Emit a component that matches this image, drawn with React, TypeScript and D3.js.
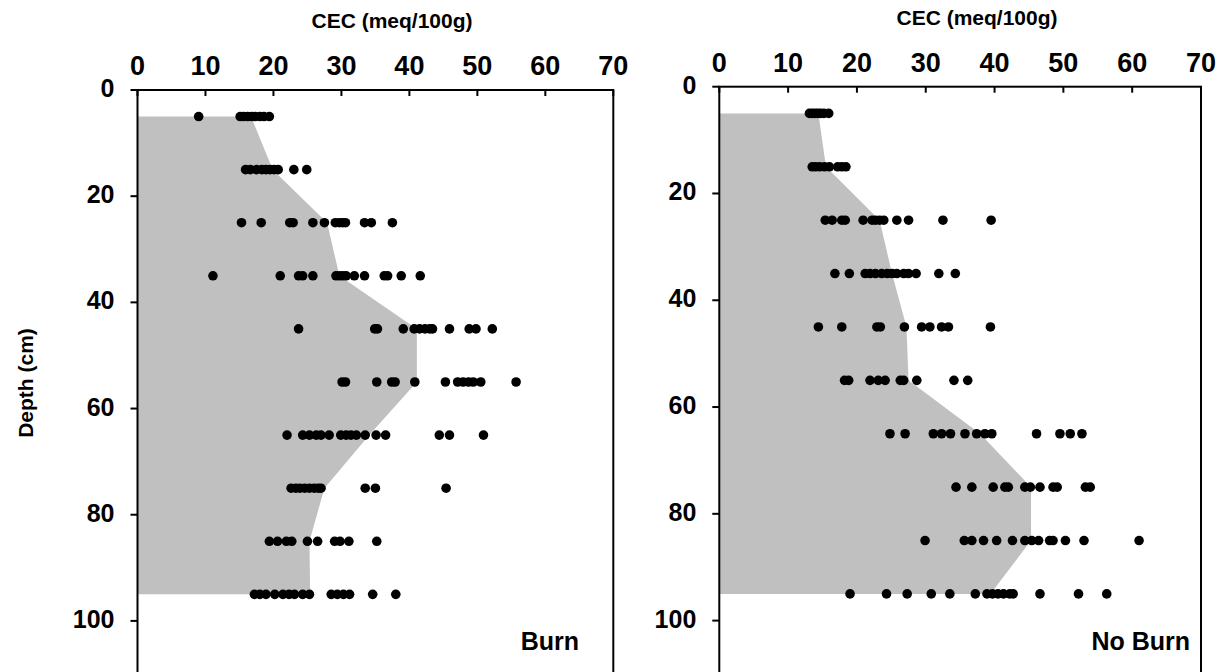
import React from "react";
import * as d3 from "d3";

const depths = [5, 15, 25, 35, 45, 55, 65, 75, 85, 95];
const xTicks = [0, 10, 20, 30, 40, 50, 60, 70];
const yTicks = [0, 20, 40, 60, 80, 100];

const burnMean = [16.7, 19.9, 27.9, 29.7, 41.1, 41.1, 34.1, 27.5, 25.3, 25.4];
const noBurnMean = [14.4, 15.5, 23.3, 25.1, 27.2, 27.5, 37.9, 45.3, 45.3, 39.4];

const burnObs = [
  [9.0, 15.1, 15.6, 16.2, 16.8, 17.3, 18.0, 18.6, 19.4],
  [15.9, 16.6, 17.5, 18.3, 18.9, 19.5, 20.1, 20.7, 23.0, 24.9],
  [15.3, 18.2, 22.4, 22.9, 25.8, 27.5, 29.1, 29.7, 30.2, 30.6, 33.4, 34.4, 37.5],
  [11.1, 21.0, 23.7, 24.3, 25.8, 29.2, 29.7, 30.2, 30.7, 31.9, 33.4, 36.3, 36.8, 38.8, 41.6],
  [23.7, 34.9, 35.3, 39.1, 40.7, 41.5, 42.3, 43.0, 43.4, 45.9, 48.8, 49.8, 52.2],
  [30.1, 30.6, 35.2, 37.4, 37.9, 40.8, 45.3, 47.1, 47.9, 48.7, 49.4, 50.5, 55.7],
  [22.0, 24.3, 25.3, 26.3, 27.0, 28.2, 29.9, 30.7, 31.4, 32.2, 33.5, 35.1, 36.5, 44.4, 45.9, 50.9],
  [22.6, 23.3, 23.9, 24.6, 25.3, 26.0, 26.6, 27.0, 33.5, 35.0, 45.4],
  [19.4, 20.6, 21.9, 22.7, 25.0, 26.5, 29.0, 29.8, 31.1, 35.2],
  [17.2, 18.0, 18.9, 20.2, 21.4, 22.3, 23.1, 24.3, 25.3, 28.5, 29.4, 30.3, 31.2, 34.6, 38.0],
];

const noBurnObs = [
  [13.1, 13.5, 13.9, 14.3, 14.7, 15.2, 15.9],
  [13.5, 14.0, 14.6, 15.3, 16.0, 17.2, 17.8, 18.4],
  [15.4, 16.4, 17.8, 18.3, 20.9, 22.2, 22.7, 23.3, 23.9, 25.8, 27.5, 32.5, 39.5],
  [16.8, 18.9, 21.2, 21.9, 22.7, 23.6, 24.4, 25.1, 25.8, 26.8, 27.5, 28.6, 31.9, 34.3],
  [14.4, 17.8, 22.9, 23.4, 26.9, 29.4, 30.6, 32.3, 33.3, 39.4],
  [18.2, 18.8, 21.9, 23.1, 24.1, 26.3, 26.8, 28.7, 34.1, 36.1],
  [24.8, 27.0, 31.1, 32.3, 33.6, 35.7, 37.4, 38.6, 39.6, 46.1, 49.5, 51.0, 52.7],
  [34.4, 36.7, 39.8, 41.5, 42.0, 44.4, 45.2, 46.6, 48.5, 49.1, 53.2, 53.9],
  [29.9, 35.6, 36.7, 38.4, 40.3, 42.6, 44.4, 45.4, 46.4, 48.0, 48.5, 50.3, 53.0, 61.0],
  [19.0, 24.3, 27.3, 30.8, 33.5, 37.2, 38.9, 39.7, 40.5, 41.3, 42.2, 42.7, 46.6, 52.2, 56.3],
];

const FONT = "Arial, 'Liberation Sans', sans-serif";

type PanelProps = {
  left: number;
  right: number;
  top: number;
  bottom: number;
  mean: number[];
  obs: number[][];
  label: string;
  labelRight: number;
  titleX: number;
};

function Panel({ left, right, top, bottom, mean, obs, label, labelRight, titleX }: PanelProps) {
  const x = d3.scaleLinear().domain([0, 70]).range([left, right]);
  const y = d3.scaleLinear().domain([0, 110]).range([top, bottom]);
  const pts: [number, number][] = [[0, depths[0]]];
  depths.forEach((d, i) => pts.push([mean[i], d]));
  pts.push([0, depths[depths.length - 1]]);
  const area = d3
    .line<[number, number]>()
    .x((p) => x(p[0]))
    .y((p) => y(p[1]))(pts) + "Z";

  return (
    <g>
      <path d={area} fill="#c0c0c0" stroke="none" />
      {obs.map((row, i) =>
        row.map((v, j) => (
          <circle key={`${i}-${j}`} cx={x(v)} cy={y(depths[i])} r={4.8} fill="#000" />
        ))
      )}
      <rect
        x={left}
        y={top}
        width={right - left}
        height={bottom - top}
        fill="none"
        stroke="#000"
        strokeWidth={2}
      />
      {xTicks.map((t) => (
        <g key={`xt${t}`}>
          <line x1={x(t)} x2={x(t)} y1={top} y2={top + 6} stroke="#000" strokeWidth={2} />
          <text
            x={x(t)}
            y={top - 15}
            textAnchor="middle"
            fontFamily={FONT}
            fontWeight="bold"
            fontSize={27}
          >
            {t}
          </text>
        </g>
      ))}
      {yTicks.map((t) => (
        <g key={`yt${t}`}>
          <line x1={left - 7} x2={left} y1={y(t)} y2={y(t)} stroke="#000" strokeWidth={2} />
          <text
            x={left - 23}
            y={y(t) + 7}
            textAnchor="end"
            fontFamily={FONT}
            fontWeight="bold"
            fontSize={25}
          >
            {t}
          </text>
        </g>
      ))}
      <text
        x={titleX}
        y={top - 62}
        textAnchor="middle"
        fontFamily={FONT}
        fontWeight="bold"
        fontSize={21}
      >
        CEC (meq/100g)
      </text>
      <text
        x={labelRight}
        y={650}
        textAnchor="end"
        fontFamily={FONT}
        fontWeight="bold"
        fontSize={25}
      >
        {label}
      </text>
    </g>
  );
}

export default function App() {
  return (
    <svg
      width={1223}
      height={672}
      style={{ position: "absolute", left: 0, top: 0, background: "#fff" }}
    >
      <rect x={0} y={0} width={1223} height={672} fill="#fff" />
      <Panel
        left={137.5}
        right={613.3}
        top={90}
        bottom={674}
        mean={burnMean}
        obs={burnObs}
        label="Burn"
        labelRight={579}
        titleX={392}
      />
      <Panel
        left={719.3}
        right={1201}
        top={86.7}
        bottom={674}
        mean={noBurnMean}
        obs={noBurnObs}
        label="No Burn"
        labelRight={1190}
        titleX={977}
      />
      <text
        transform="translate(33,383) rotate(-90)"
        textAnchor="middle"
        fontFamily={FONT}
        fontWeight="bold"
        fontSize={21}
      >
        Depth (cm)
      </text>
    </svg>
  );
}
